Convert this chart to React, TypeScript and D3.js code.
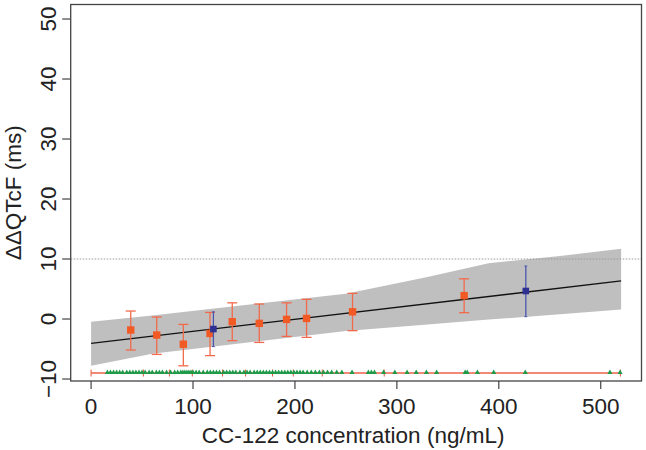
import React from "react";
import * as d3 from "d3";

// Fitted line
const lineX = [0, 520];
const lineY = [-4.05, 6.35];

// Confidence band
const bandX = [0, 60, 160, 250, 330, 390, 460, 520];
const bandLow = [-7.8, -5.8, -3.8, -2.0, -0.9, -0.1, 0.8, 1.6];
const bandHigh = [-0.45, 0.6, 2.5, 4.2, 7.0, 9.3, 10.5, 11.7];

// Orange binned observations (decile medians)
const orangeX = [38.9, 64.4, 90.5, 116.7, 138.5, 165, 191.8, 211.4, 256.5, 366];
const orangeY = [-1.83, -2.67, -4.2, -2.4, -0.45, -0.72, -0.06, 0.1, 1.2, 3.9];
const orangeLo = [-5.17, -5.9, -7.8, -6.1, -3.6, -3.9, -2.9, -3.06, -1.94, 1.06];
const orangeHi = [1.33, 0.33, -0.9, 1.1, 2.7, 2.5, 2.7, 3.28, 4.28, 6.7];

// Blue predicted points
const blueX = [120, 426.5];
const blueY = [-1.67, 4.67];
const blueLo = [-4.6, 0.39];
const blueHi = [1.2, 8.83];

// Rug: decile boundaries and individual concentrations
const decileBounds = [0, 51.3, 76.8, 99.3, 129, 151.6, 178, 198.4, 226.8, 287.6, 519.3];
const concentrations = [
  16, 19, 22, 25, 28, 31, 35, 38, 41, 44, 47, 50, 53, 57, 60, 64, 67, 70, 74, 78,
  82, 85, 88, 90, 92, 94, 96, 98, 100, 103, 106, 110, 114, 117, 120, 123, 126, 130,
  133, 136, 139, 142, 146, 150, 153, 156, 160, 163, 166, 169, 172, 175, 178, 181,
  184, 187, 190, 193, 196, 199, 202, 205, 208, 212, 216, 220, 224, 228, 232, 236,
  241, 246, 256, 272, 275, 278, 287, 298, 310, 319, 329, 339, 367, 369, 379, 395,
  426, 509, 519,
];
const rugLevel = -9;
const thresholdY = 10;

const xTicks = [0, 100, 200, 300, 400, 500];
const yTicks = [-10, 0, 10, 20, 30, 40, 50];

const W = 646;
const H = 450;
const L = 70.7;
const R = 641.5;
const T = 4.5;
const B = 381;

export default function App() {
  const x = d3.scaleLinear().domain([-20, 540]).range([L, R]);
  const y = d3.scaleLinear().domain([-10.33, 52.42]).range([B, T]);

  const bandData = bandX.map((v, i) => ({ x: v, lo: bandLow[i], hi: bandHigh[i] }));
  const area = d3
    .area<{ x: number; lo: number; hi: number }>()
    .x((d) => x(d.x))
    .y0((d) => y(d.lo))
    .y1((d) => y(d.hi));
  const line = d3
    .line<number>()
    .x((d) => x(d))
    .y((d, i) => y(lineY[i]));

  const font = "Liberation Sans, Arial, Helvetica, sans-serif";
  const fs = 22.5;
  const tri = d3.symbol().type(d3.symbolTriangle).size(11)();
  const orangeMarker = "#f15a24";
  const orangeBar = "#f26a4b";
  const blueMarker = "#2e3192";
  const blueBar = "#4a56b0";

  return (
    <svg
      width={W}
      height={H}
      style={{ position: "absolute", left: 0, top: 0, background: "#fff" }}
      fontFamily={font}
    >
      <path d={area(bandData) || ""} fill="#bfbfbf" />
      <line
        x1={L}
        x2={R}
        y1={y(thresholdY)}
        y2={y(thresholdY)}
        stroke="#999"
        strokeWidth={1}
        strokeDasharray="1.5,1.5"
      />
      <path d={line(lineX) || ""} fill="none" stroke="#111" strokeWidth={1.3} />

      {/* rug */}
      <line
        x1={x(decileBounds[0])}
        x2={x(decileBounds[decileBounds.length - 1])}
        y1={y(rugLevel)}
        y2={y(rugLevel)}
        stroke="#f0604a"
        strokeWidth={1.3}
      />
      {decileBounds.map((b, i) => (
        <line
          key={"db" + i}
          x1={x(b)}
          x2={x(b)}
          y1={y(rugLevel) - 3.5}
          y2={y(rugLevel) + 3.5}
          stroke="#e8553a"
          strokeWidth={1}
        />
      ))}
      {concentrations.map((c, i) => (
        <path
          key={"c" + i}
          d={tri || ""}
          transform={`translate(${x(c)},${y(rugLevel) - 0.5})`}
          fill="#1f9a48"
        />
      ))}

      {/* orange error bars */}
      {orangeX.map((v, i) => (
        <g key={"o" + i}>
          <line x1={x(v)} x2={x(v)} y1={y(orangeLo[i])} y2={y(orangeHi[i])} stroke={orangeBar} strokeWidth={1.3} />
          <line x1={x(v) - 5} x2={x(v) + 5} y1={y(orangeLo[i])} y2={y(orangeLo[i])} stroke={orangeBar} strokeWidth={1.3} />
          <line x1={x(v) - 5} x2={x(v) + 5} y1={y(orangeHi[i])} y2={y(orangeHi[i])} stroke={orangeBar} strokeWidth={1.3} />
          <rect x={x(v) - 3.7} y={y(orangeY[i]) - 3.7} width={7.4} height={7.4} fill={orangeMarker} />
        </g>
      ))}
      {/* blue */}
      {blueX.map((v, i) => (
        <g key={"b" + i}>
          <line x1={x(v)} x2={x(v)} y1={y(blueLo[i])} y2={y(blueHi[i])} stroke={blueBar} strokeWidth={1.3} />
          <line x1={x(v) - 1.5} x2={x(v) + 1.5} y1={y(blueLo[i])} y2={y(blueLo[i])} stroke={blueBar} strokeWidth={1} />
          <line x1={x(v) - 1.5} x2={x(v) + 1.5} y1={y(blueHi[i])} y2={y(blueHi[i])} stroke={blueBar} strokeWidth={1} />
          <rect x={x(v) - 3.3} y={y(blueY[i]) - 3.3} width={6.6} height={6.6} fill={blueMarker} />
        </g>
      ))}

      {/* frame */}
      <rect x={L} y={T} width={R - L} height={B - T} fill="none" stroke="#444" strokeWidth={1.3} />

      {/* x axis */}
      {xTicks.map((t) => (
        <g key={"xt" + t}>
          <line x1={x(t)} x2={x(t)} y1={B} y2={B + 8} stroke="#444" strokeWidth={1.2} />
          <text x={x(t)} y={414} textAnchor="middle" fontSize={fs} fill="#222">
            {t}
          </text>
        </g>
      ))}
      <text x={(L + R) / 2 - 3} y={443} textAnchor="middle" fontSize={fs} fill="#222">
        CC-122 concentration (ng/mL)
      </text>

      {/* y axis */}
      {yTicks.map((t) => (
        <g key={"yt" + t}>
          <line x1={L} x2={L - 8.5} y1={y(t)} y2={y(t)} stroke="#444" strokeWidth={1.2} />
          <text
            transform={`translate(56,${y(t)}) rotate(-90)`}
            textAnchor="middle"
            fontSize={fs}
            fill="#222"
          >
            {t < 0 ? "\u2212" + Math.abs(t) : t}
          </text>
        </g>
      ))}
      <text
        transform={`translate(21,${(T + B) / 2}) rotate(-90)`}
        textAnchor="middle"
        fontSize={fs}
        fill="#222"
      >
        ΔΔQTcF (ms)
      </text>
    </svg>
  );
}
